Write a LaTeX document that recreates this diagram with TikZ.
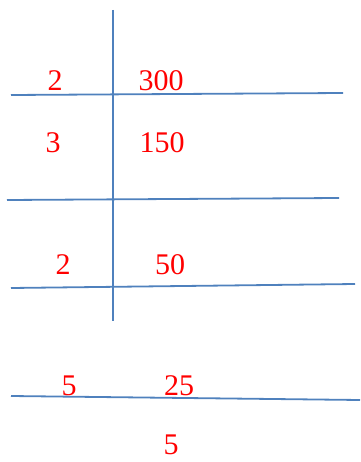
\documentclass[tikz,border=0pt]{standalone}
\usepackage{fontspec}
\newfontfamily\numfont{Liberation Serif}

\begin{document}
\begin{tikzpicture}[x=1pt, y=-1pt,
    rule/.style={color={rgb,255:red,79;green,129;blue,189}, line width=1.8pt},
    num/.style={red, font=\numfont\fontsize{30}{36}\selectfont, inner sep=0pt}]
  \useasboundingbox (0,0) rectangle (360,462);

  % Ladder lines
  \draw[rule] (113,10) -- (113,321);
  \draw[rule] (11,95) -- (343,93);
  \draw[rule] (7,200) -- (339,198);
  \draw[rule] (11,288) -- (355,284);
  \draw[rule] (11,396) -- (360,400);

  % Divisors and quotients
  \node[num] (d1) at (55,81) {2};
  \node[num] (q1) at (161,81) {300};
  \node[num] (d2) at (53,143) {3};
  \node[num] (q2) at (162,143) {150};
  \node[num] (d3) at (63,265) {2};
  \node[num] (q3) at (170,265) {50};
  \node[num] (d4) at (69,386) {5};
  \node[num] (q4) at (179,386) {25};
  \node[num] (q5) at (171,445) {5};
\end{tikzpicture}
\end{document}
